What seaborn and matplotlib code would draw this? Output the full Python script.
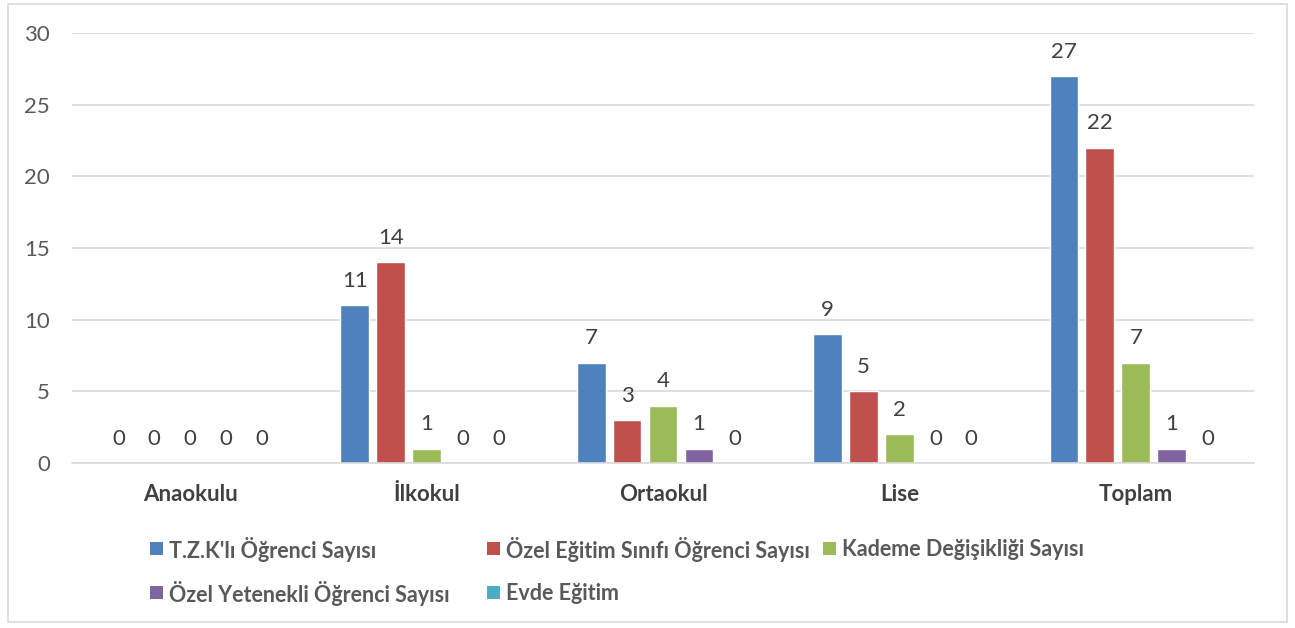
import matplotlib
matplotlib.use("Agg")
import matplotlib.pyplot as plt
import seaborn as sns
import pandas as pd
from matplotlib.patches import Rectangle

categories = ["Anaokulu", "İlkokul", "Ortaokul", "Lise", "Toplam"]
series_names = ["T.Z.K'lı Öğrenci Sayısı", "Özel Eğitim Sınıfı Öğrenci Sayısı",
                "Kademe Değişikliği Sayısı", "Özel Yetenekli Öğrenci Sayısı", "Evde Eğitim"]
tzk = [0, 11, 7, 9, 27]
ozel_egitim = [0, 14, 3, 5, 22]
kademe = [0, 1, 4, 2, 7]
ozel_yetenekli = [0, 0, 1, 0, 1]
evde = [0, 0, 0, 0, 0]
colors = ["#4F81BD", "#C0504D", "#9BBB59", "#8064A2", "#4BACC6"]

rows = []
for name, vals in zip(series_names, [tzk, ozel_egitim, kademe, ozel_yetenekli, evde]):
    for c, v in zip(categories, vals):
        rows.append({"Kategori": c, "Seri": name, "Değer": v})
df = pd.DataFrame(rows)

sns.set_theme(style="white")
plt.rcParams['font.family'] = ['Lato', 'DejaVu Sans']

FS = 16
W, H = 1295, 628

fig = plt.figure(figsize=(12.95, 6.28), dpi=100)
ax = fig.add_axes([72/W, 1-463/H, (1254-72)/W, (463-33)/H])

sns.barplot(data=df, x="Kategori", y="Değer", hue="Seri", order=categories,
            hue_order=series_names, palette=colors, width=0.76, gap=0.2,
            saturation=1, ax=ax, legend=True, errorbar=None)

ax.set_ylim(0, 30)
ax.set_xlim(-0.5, 4.5)
ax.set_yticks(range(0, 31, 5))
ax.yaxis.grid(True, color="#D9D9D9", linewidth=1.2)
ax.set_axisbelow(True)
for s in ["top", "right", "left"]:
    ax.spines[s].set_visible(False)
ax.spines["bottom"].set_color("#D9D9D9")
ax.spines["bottom"].set_linewidth(1.2)
ax.set_xlabel("")
ax.set_ylabel("")
ax.tick_params(axis="y", length=0, pad=16, labelsize=FS, labelcolor="#595959")
ax.tick_params(axis="x", length=0, pad=15, labelsize=FS, labelcolor="#404040")
for t in ax.get_xticklabels():
    t.set_fontweight("bold")

for cont in ax.containers:
    for bar in cont:
        h = bar.get_height()
        ax.annotate(f"{int(h)}", (bar.get_x() + bar.get_width()/2, h),
                    xytext=(0, 17.5), textcoords="offset points",
                    ha="center", va="center", fontsize=FS, color="#404040")

# Legend laid out in a fixed grid (Excel style)
ax.get_legend().remove()
legend_slots = [(150, 548), (487, 548), (823, 548), (150, 592), (487, 592)]
for (xpx, ypx), name, col in zip(legend_slots, series_names, colors):
    fig.patches.append(Rectangle((xpx/W, 1-(ypx+6.5)/H), 13/W, 13/H,
                                 transform=fig.transFigure, facecolor=col,
                                 edgecolor="none"))
    fig.text((xpx+19)/W, 1-ypx/H, name, ha="left", va="center_baseline",
             fontsize=15.5, fontweight="bold", color="#595959")

fig.patches.append(Rectangle((8/W, 1-622/H), (1287-8)/W, (622-4)/H,
                             transform=fig.transFigure, fill=False,
                             edgecolor="#D9D9D9", linewidth=1.2))

fig.savefig("out.png", dpi=100, facecolor="white")
